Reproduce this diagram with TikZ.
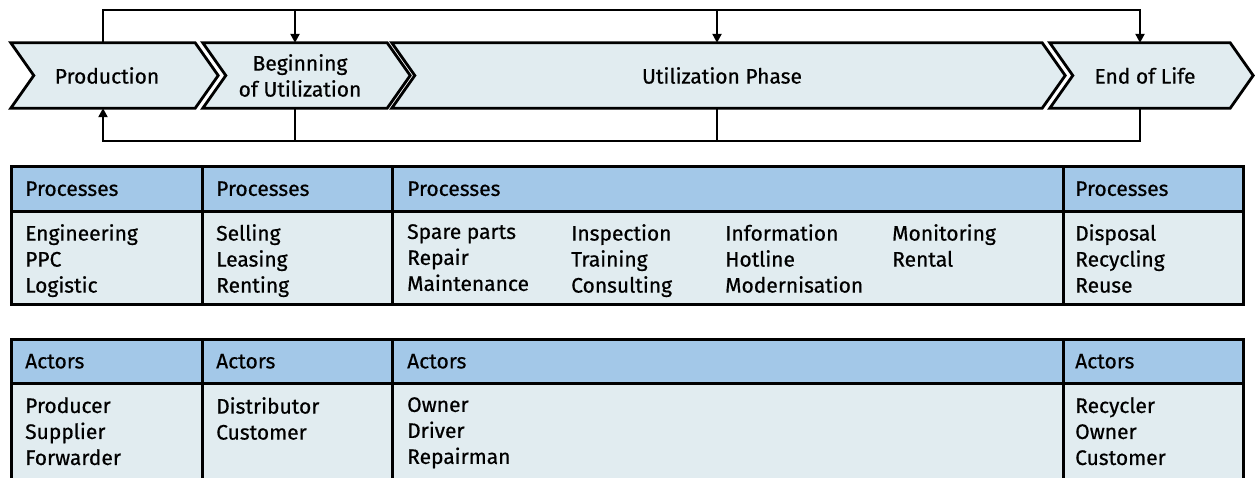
\documentclass[tikz,border=0pt]{standalone}
\usepackage{fontspec}
\setmainfont{Fira Sans}[FakeBold=0.6]
\usetikzlibrary{arrows.meta, positioning, backgrounds}

\definecolor{phasefill}{RGB}{225,236,240}
\definecolor{headfill}{RGB}{163,200,232}

\begin{document}
\begin{tikzpicture}[x=1pt, y=-1pt, >={Triangle[length=9pt,width=9pt]},
    font=\fontsize{21}{26}\selectfont,
    phase/.style={minimum height=65pt, inner sep=0pt, align=center},
    chevron/.style={draw, line width=2.8pt, fill=phasefill},
    flow/.style={line width=2.6pt},
    cell/.style={draw, line width=2.6pt, anchor=north west, inner sep=0pt},
    head/.style={cell, fill=headfill},
    body/.style={cell, fill=phasefill},
    item/.style={inner sep=0pt, align=left}]
  \useasboundingbox (0,0) rectangle (1255,477);
  \clip (0,0) rectangle (1255,477);

  % phases
  \node[phase, minimum width=184pt] (prod) at (103,75.5) {\hspace*{8pt}Production};
  \node[phase, minimum width=184pt] (begin) at (295,75.5) {\hspace*{10pt}Beginning\\\hspace*{10pt}of Utilization};
  \node[phase, minimum width=650pt] (util) at (717,75.5) {\hspace*{10pt}Utilization Phase};
  \node[phase, minimum width=180pt] (eol) at (1140,75.5) {\hspace*{10pt}End of Life};

  \begin{scope}[on background layer]
    \foreach \n in {prod,begin,util,eol}
      \draw[chevron] (\n.north west) -- (\n.north east) -- ([xshift=23pt]\n.east)
        -- (\n.south east) -- (\n.south west) -- ([xshift=23pt]\n.west) -- cycle;
  \end{scope}

  % feedback loops
  \coordinate (top) at (0,10);
  \coordinate (bot) at (0,141);
  \draw[flow, ->] (prod.north) -- (prod.north |- top) -- (eol.north |- top) -- (eol.north);
  \draw[flow, ->] (begin.north |- top) -- (begin.north);
  \draw[flow, ->] (util.north |- top) -- (util.north);
  \draw[flow, ->] (eol.south) -- (eol.south |- bot) -- (prod.south |- bot) -- (prod.south);
  \draw[flow] (begin.south) -- (begin.south |- bot);
  \draw[flow] (util.south) -- (util.south |- bot);

  % processes
  \node[head, minimum width=191pt, minimum height=45pt] (ph1) at (10,165) {};
  \node[head, minimum width=190pt, minimum height=45pt] (ph2) at (201,165) {};
  \node[head, minimum width=671pt, minimum height=45pt] (ph3) at (391,165) {};
  \node[head, minimum width=180pt, minimum height=45pt] (ph4) at (1062,165) {};
  \node[body, minimum width=191pt, minimum height=93pt] (pb1) at (10,210) {};
  \node[body, minimum width=190pt, minimum height=93pt] (pb2) at (201,210) {};
  \node[body, minimum width=671pt, minimum height=93pt] (pb3) at (391,210) {};
  \node[body, minimum width=180pt, minimum height=93pt] (pb4) at (1062,210) {};

  \node[item, right=15pt of ph1.west] (pt1) {Processes};
  \node[item, right=15pt of ph2.west] (pt2) {Processes};
  \node[item, right=16pt of ph3.west] (pt3) {Processes};
  \node[item, right=13pt of ph4.west] (pt4) {Processes};

  \node[item, below right=14pt and 15pt of pb1.north west] (pl1) {Engineering\\PPC\\Logistic};
  \node[item, below right=14pt and 15pt of pb2.north west] (pl2) {Selling\\Leasing\\Renting};
  \node[item, below right=14pt and 16pt of pb3.north west] (pl3) {Spare parts\\Repair\\Maintenance};
  \node[item, below right=14pt and 180pt of pb3.north west] (pl4) {Inspection\\Training\\Consulting};
  \node[item, below right=14pt and 334pt of pb3.north west] (pl5) {Information\\Hotline\\Modernisation};
  \node[item, below right=14pt and 501pt of pb3.north west] (pl6) {Monitoring\\Rental};
  \node[item, below right=14pt and 13pt of pb4.north west] (pl7) {Disposal\\Recycling\\Reuse};

  % actors
  \node[head, minimum width=191pt, minimum height=44pt] (ah1) at (10,338) {};
  \node[head, minimum width=190pt, minimum height=44pt] (ah2) at (201,338) {};
  \node[head, minimum width=671pt, minimum height=44pt] (ah3) at (391,338) {};
  \node[head, minimum width=180pt, minimum height=44pt] (ah4) at (1062,338) {};
  \node[body, minimum width=191pt, minimum height=120pt] (ab1) at (10,382) {};
  \node[body, minimum width=190pt, minimum height=120pt] (ab2) at (201,382) {};
  \node[body, minimum width=671pt, minimum height=120pt] (ab3) at (391,382) {};
  \node[body, minimum width=180pt, minimum height=120pt] (ab4) at (1062,382) {};

  \node[item, right=15pt of ah1.west] (at1) {Actors};
  \node[item, right=15pt of ah2.west] (at2) {Actors};
  \node[item, right=16pt of ah3.west] (at3) {Actors};
  \node[item, right=13pt of ah4.west] (at4) {Actors};

  \node[item, below right=15pt and 15pt of ab1.north west] (al1) {Producer\\Supplier\\Forwarder};
  \node[item, below right=15pt and 15pt of ab2.north west] (al2) {Distributor\\Customer};
  \node[item, below right=15pt and 16pt of ab3.north west] (al3) {Owner\\Driver\\Repairman};
  \node[item, below right=15pt and 13pt of ab4.north west] (al4) {Recycler\\Owner\\Customer};
\end{tikzpicture}
\end{document}
